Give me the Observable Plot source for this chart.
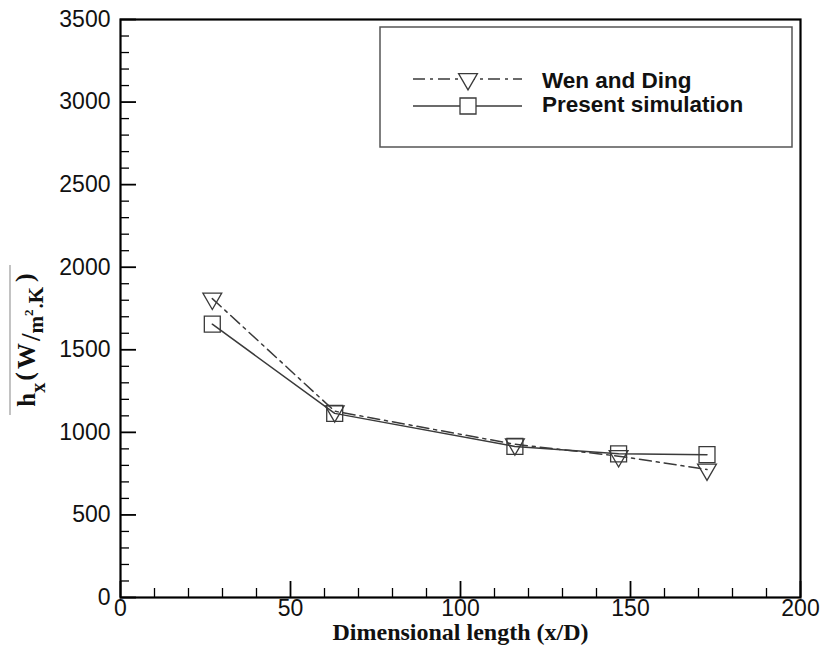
<!DOCTYPE html>
<html><head><meta charset="utf-8">
<script src="https://cdn.jsdelivr.net/npm/d3@7"></script>
<script src="https://cdn.jsdelivr.net/npm/@observablehq/plot@0.6"></script>
<style>body{margin:0;background:#fff} #chart{position:relative;width:823px;height:651px}</style>
</head><body><div id="chart"></div>
<script>
// ---- data ----
const xPos = [27, 63, 116, 146.5, 172.5];
const wenDing = [1810, 1128, 928, 856, 775];
const present = [1655, 1115, 915, 870, 865];
const xMajor = [0, 50, 100, 150, 200];
const xMinor = [10, 20, 30, 40, 60, 70, 80, 90, 110, 120, 130, 140, 160, 170, 180, 190];
const yMajor = [0, 500, 1000, 1500, 2000, 2500, 3000, 3500];
const yMinor = [100, 200, 300, 400, 600, 700, 800, 900, 1100, 1200, 1300, 1400, 1600, 1700, 1800, 1900,
  2100, 2200, 2300, 2400, 2600, 2700, 2800, 2900, 3100, 3200, 3300, 3400];
const seriesNames = ["Wen and Ding", "Present simulation"];
const xTitle = "Dimensional length (x/D)";

const wenData = xPos.map((x, i) => ({x, y: wenDing[i]}));
const simData = xPos.map((x, i) => ({x, y: present[i]}));

const W = 823, H = 651;
const mL = 120, mR = 23, mT = 19, mB = 54;
const pw = W - mL - mR, ph = H - mT - mB;
const lineColor = "#3a3a3a";
const dashDot = "12,5,3,5";
const sans = "'Liberation Sans', Arial, sans-serif";
const serif = "'Liberation Serif', 'Times New Roman', serif";

const chart = Plot.plot({
  width: W, height: H,
  marginLeft: mL, marginRight: mR, marginTop: mT, marginBottom: mB,
  style: {fontFamily: sans, fontSize: "23px", background: "#fff", color: "#111"},
  x: {domain: [0, 200]},
  y: {domain: [0, 3500]},
  marks: [
    Plot.tickX(xMajor, {x: d => d, insetTop: ph - 16, stroke: "#000", strokeWidth: 1.8}),
    Plot.tickX(xMinor, {x: d => d, insetTop: ph - 9, stroke: "#000", strokeWidth: 1.3}),
    Plot.tickY(yMajor, {y: d => d, insetRight: pw - 16, stroke: "#000", strokeWidth: 1.8}),
    Plot.tickY(yMinor, {y: d => d, insetRight: pw - 9, stroke: "#000", strokeWidth: 1.3}),
    Plot.line(simData, {x: "x", y: "y", stroke: lineColor, strokeWidth: 1.5}),
    Plot.line(wenData, {x: "x", y: "y", stroke: lineColor, strokeWidth: 1.5, strokeDasharray: dashDot}),
    Plot.dot(wenData, {x: "x", y: "y", symbol: "triangle", rotate: 180, r: 7, stroke: lineColor, strokeWidth: 1.3, fill: "none"}),
    Plot.dot(simData, {x: "x", y: "y", symbol: "square", r: 9, stroke: lineColor, strokeWidth: 1.3, fill: "none"}),
    Plot.frame({stroke: "#000", strokeWidth: 2.2}),
    Plot.axisX(xMajor, {tickSize: 0, tickPadding: 2, label: null, fontSize: 23, tickFormat: d3.format("d")}),
    Plot.axisY(yMajor, {tickSize: 0, tickPadding: 10, label: null, fontSize: 23, tickFormat: d3.format("d")}),
    Plot.text([xTitle], {text: d => d, frameAnchor: "bottom", dy: 42, fontFamily: serif, fontWeight: "bold", fontSize: 24, fill: "#111"})
  ]
});
document.getElementById("chart").appendChild(chart);

// ---- y-axis title with sub/superscripts ----
const svg = d3.select(chart);
svg.append("line").attr("x1", 10).attr("x2", 10).attr("y1", 265).attr("y2", 415)
  .attr("stroke", "#9a9a9a").attr("stroke-width", 1.2);
const yt = svg.append("text")
  .attr("transform", "translate(35,340) rotate(-90)")
  .attr("text-anchor", "middle")
  .attr("font-family", serif).attr("font-weight", "bold").attr("fill", "#111");
const parts = [
  {t: "h", size: 25, dy: 0, dx: 0},
  {t: "x", size: 20, dy: 10, dx: 0},
  {t: "(", size: 26, dy: -12, dx: 2},
  {t: "W", size: 26, dy: 2, dx: 3},
  {t: "/", size: 27, dy: 5, dx: 2},
  {t: "m", size: 21, dy: 3, dx: 0},
  {t: "2", size: 13, dy: -10, dx: 0},
  {t: ".K", size: 21, dy: 10, dx: 1},
  {t: ")", size: 26, dy: -10, dx: 5}
];
parts.forEach(p => yt.append("tspan").attr("font-size", p.size).attr("dy", p.dy).attr("dx", p.dx).text(p.t));

// ---- legend ----
const lg = svg.append("g");
lg.append("rect").attr("x", 380).attr("y", 27).attr("width", 412).attr("height", 120)
  .attr("fill", "#fff").attr("stroke", "#555").attr("stroke-width", 1.5);
const items = [
  {name: seriesNames[0], y: 79, base: 88, dash: dashDot, sym: d3.symbolTriangle, size: 154, rot: 180},
  {name: seriesNames[1], y: 106, base: 112, dash: null, sym: d3.symbolSquare, size: 256, rot: 0}
];
items.forEach(it => {
  lg.append("line").attr("x1", 413).attr("x2", 522).attr("y1", it.y).attr("y2", it.y)
    .attr("stroke", lineColor).attr("stroke-width", 1.5).attr("stroke-dasharray", it.dash);
  lg.append("path").attr("d", d3.symbol(it.sym, it.size)())
    .attr("transform", `translate(468,${it.y}) rotate(${it.rot})`)
    .attr("fill", "#fff").attr("stroke", lineColor).attr("stroke-width", 1.3);
  lg.append("text").attr("x", 542).attr("y", it.base).attr("text-anchor", "start")
    .attr("font-family", sans).attr("font-weight", "bold")
    .attr("font-size", 22.5).attr("fill", "#111").text(it.name);
});
</script>
</body></html>
